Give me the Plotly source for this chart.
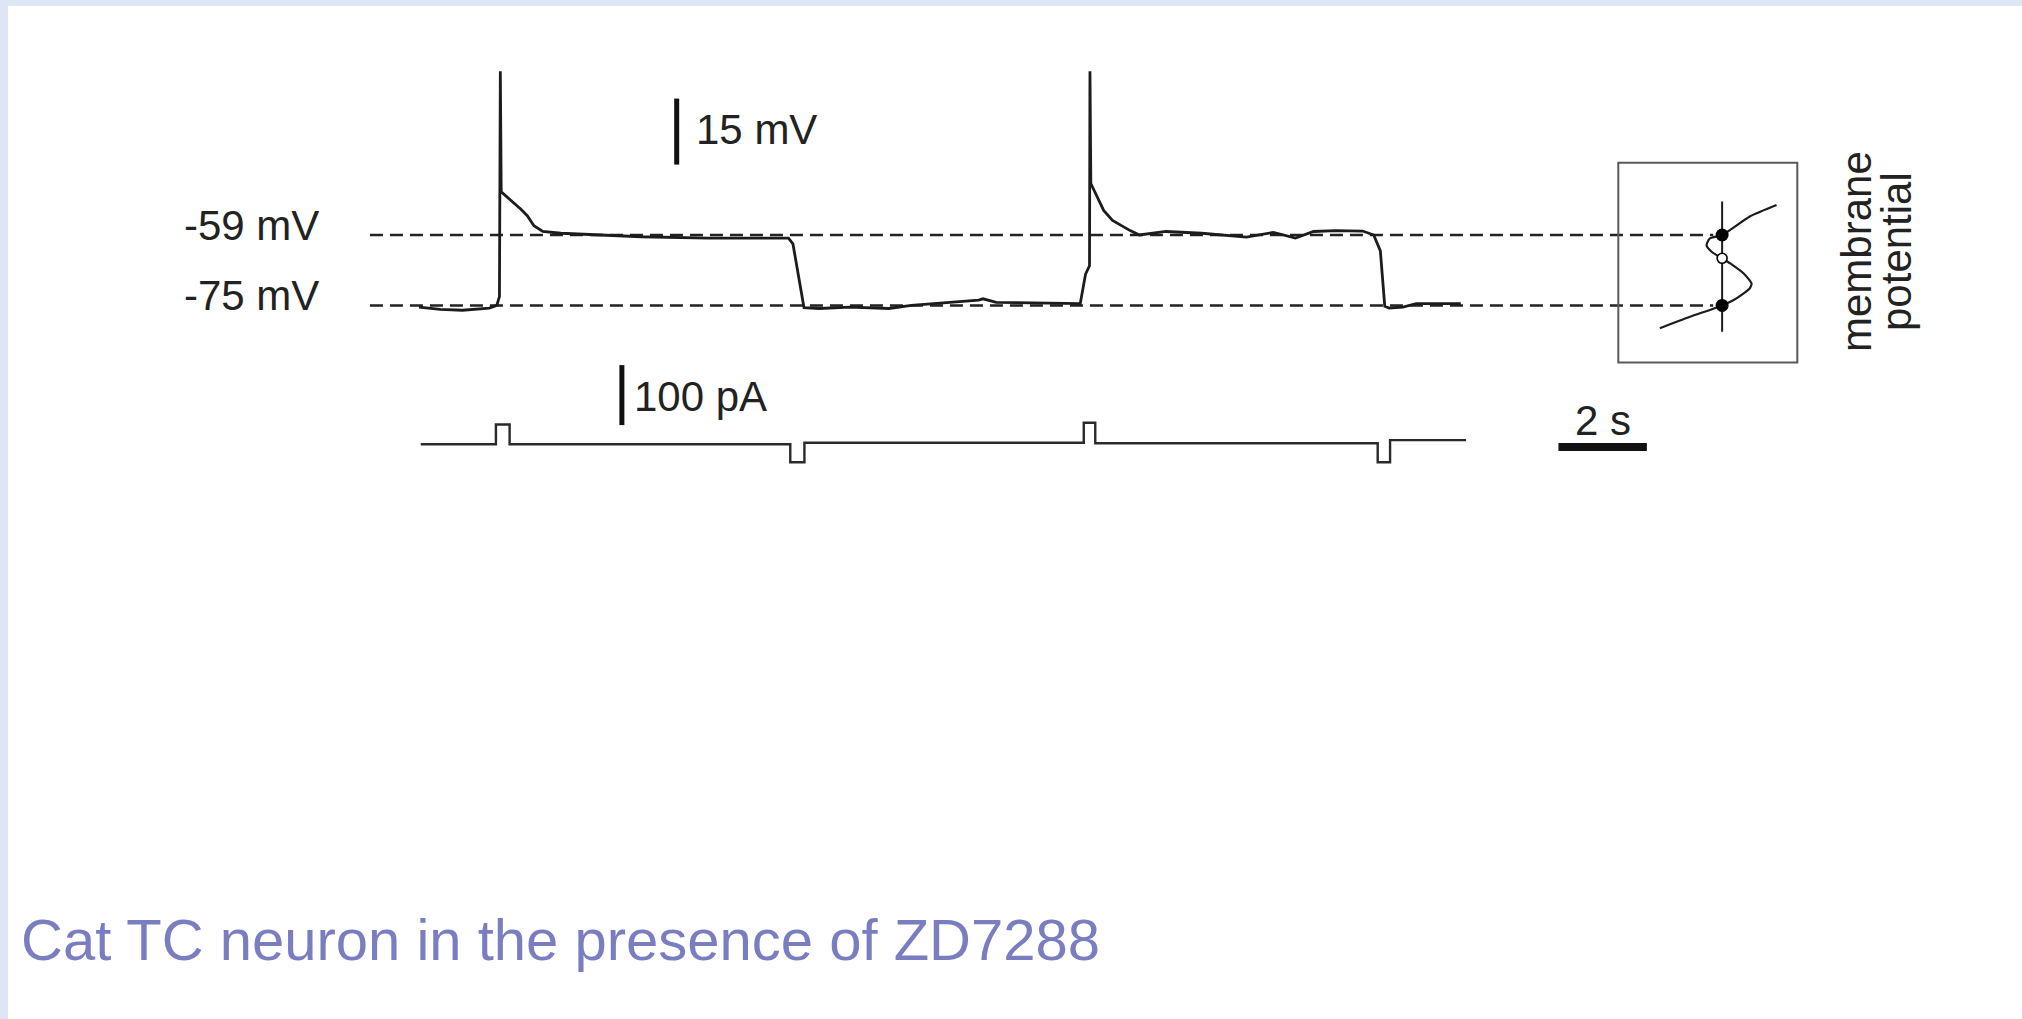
import plotly.graph_objects as go

# Membrane potential recording (time in s, potential in mV)
vm_time = [0.00, 0.48, 0.98, 1.59, 1.76, 1.82, 1.84, 1.86,
           2.30, 2.45, 2.60, 2.80, 3.21, 4.01, 5.02, 6.54,
           8.36, 8.46, 8.71, 9.06, 9.75,
           10.63, 11.14, 12.66, 12.76, 13.06, 14.68, 14.96,
           15.08, 15.17, 15.18, 15.20,
           15.49, 15.69, 16.09, 16.30, 16.90, 17.71, 18.72, 19.33, 19.83,
           20.24, 20.74, 21.35, 21.60, 21.75, 21.85, 21.95, 22.26, 22.56, 23.57]
vm_mv = [-75.4, -75.9, -76.1, -75.6, -75.0, -73.0, -21.8, -49.2,
         -53.1, -54.6, -56.9, -58.2, -58.6, -59.0, -59.4, -59.7,
         -59.7, -61.0, -75.5, -75.7, -75.4,
         -75.7, -75.0, -73.8, -73.5, -74.3, -74.6, -74.6,
         -67.9, -66.0, -21.8, -47.3,
         -53.4, -55.7, -58.0, -59.0, -58.2, -58.6, -59.5, -58.4, -59.7,
         -58.2, -58.0, -58.1, -59.0, -62.6, -75.2, -75.6, -75.4, -74.6, -74.6]

# Injected current steps (time in s, current in pA)
cur_time = [0.04, 1.74, 2.05, 8.40, 8.72, 15.04, 15.30, 21.69, 21.97, 23.69]
cur_pa = [0, 33, 0, -30, 2.7, 36, 1.7, -30, 7, 7]

# Reference potentials
ref_levels_mv = [-59, -75]
ref_labels = ["-59 mV", "-75 mV"]

# Scale bars
vm_bar_mv = 15
cur_bar_pa = 100
time_bar_s = 2

# Inset: steady-state I-V relation (current in arbitrary units, potential in mV)
iv_current = [-34.8, -18.0, 0.0, 8.0, 15.5, 16.4, 11.9, 4.3, 0.0, -5.9, -8.7, -6.9, 0.0, 15.5, 30.4]
iv_mv = [-80.2, -77.6, -75.0, -73.4, -71.1, -70.0, -67.7, -65.4, -64.3, -62.8, -61.3, -59.8, -59.0, -54.8, -52.2]
stable_mv = [-59, -75]
unstable_mv = [-64.3]
zero_line_mv = [-81.0, -51.4]

title_text = "Cat TC neuron in the presence of ZD7288"

W, H = 2022, 1019
INK = "#1c1c1c"
LABEL_FONT = dict(family="Liberation Sans Narrow, Arial Narrow, Liberation Sans, Arial", size=42, color="#222222")

fig = go.Figure()

fig.add_trace(go.Scatter(x=vm_time, y=vm_mv, mode="lines",
                         line=dict(color=INK, width=2.8), xaxis="x", yaxis="y",
                         hoverinfo="skip"))
fig.add_trace(go.Scatter(x=cur_time, y=cur_pa, mode="lines",
                         line=dict(color="#2a2a2a", width=2.4, shape="hv"),
                         xaxis="x", yaxis="y2", hoverinfo="skip"))

# Inset traces share the mV axis
fig.add_trace(go.Scatter(x=[0, 0], y=zero_line_mv, mode="lines",
                         line=dict(color=INK, width=2), xaxis="x3", yaxis="y",
                         hoverinfo="skip"))
fig.add_trace(go.Scatter(x=iv_current, y=iv_mv, mode="lines",
                         line=dict(color=INK, width=2.2, shape="spline", smoothing=0.6),
                         xaxis="x3", yaxis="y", hoverinfo="skip"))
fig.add_trace(go.Scatter(x=[0] * len(stable_mv), y=stable_mv, mode="markers",
                         marker=dict(size=13, color="black"),
                         xaxis="x3", yaxis="y", hoverinfo="skip"))
fig.add_trace(go.Scatter(x=[0] * len(unstable_mv), y=unstable_mv, mode="markers",
                         marker=dict(size=10, color="white", line=dict(color="black", width=1.6)),
                         xaxis="x3", yaxis="y", hoverinfo="skip"))

shapes = []
# slide frame tint
shapes.append(dict(type="rect", xref="paper", yref="paper", x0=0, x1=1, y0=1 - 6 / H, y1=1,
                   fillcolor="rgb(221,230,244)", line=dict(width=0), layer="below"))
shapes.append(dict(type="rect", xref="paper", yref="paper", x0=0, x1=8 / W, y0=0, y1=1,
                   fillcolor="rgb(221,230,244)", line=dict(width=0), layer="below"))

# dashed reference potentials
for lv in ref_levels_mv:
    shapes.append(dict(type="line", xref="x", yref="y", x0=-1.11, x1=29.28, y0=lv, y1=lv,
                       line=dict(color="#222222", width=2.5, dash="13px,7px"), layer="below"))

# scale bars
shapes.append(dict(type="line", xref="x", yref="y", x0=5.83, x1=5.83, y0=-43, y1=-43 + vm_bar_mv,
                   line=dict(color="#111111", width=5)))
shapes.append(dict(type="line", xref="x", yref="y2", x0=4.59, x1=4.59, y0=32, y1=32 + cur_bar_pa,
                   line=dict(color="#111111", width=5)))
shapes.append(dict(type="line", xref="x", yref="y2", x0=25.78, x1=25.78 + time_bar_s, y0=-4.5, y1=-4.5,
                   line=dict(color="#111111", width=8)))

# inset frame
shapes.append(dict(type="rect", xref="x3 domain", yref="y", x0=0, x1=1, y0=-88.0, y1=-42.6,
                   line=dict(color="#5a5a5a", width=2), fillcolor="rgba(0,0,0,0)"))

annotations = []
for lv, txt in zip(ref_levels_mv, ref_labels):
    annotations.append(dict(x=-2.22, y=lv, xref="x", yref="y", text=txt, showarrow=False,
                            xanchor="right", yanchor="middle", yshift=10, font=LABEL_FONT))
annotations.append(dict(x=6.22, y=-35.0, xref="x", yref="y", text=f"{vm_bar_mv} mV", showarrow=False,
                        xanchor="left", yanchor="middle", font=LABEL_FONT))
annotations.append(dict(x=4.82, y=79, xref="x", yref="y2", text=f"{cur_bar_pa} pA", showarrow=False,
                        xanchor="left", yanchor="middle", font=LABEL_FONT))
annotations.append(dict(x=25.78 + time_bar_s / 2, y=40, xref="x", yref="y2", text=f"{time_bar_s} s",
                        showarrow=False, xanchor="center", yanchor="middle", font=LABEL_FONT))
annotations.append(dict(x=1857 / W, y=1 - 252 / H, xref="paper", yref="paper", text="membrane",
                        textangle=-90, showarrow=False, xanchor="center", yanchor="middle", font=LABEL_FONT))
annotations.append(dict(x=1897 / W, y=1 - 252 / H, xref="paper", yref="paper", text="potential",
                        textangle=-90, showarrow=False, xanchor="center", yanchor="middle", font=LABEL_FONT))
annotations.append(dict(x=19 / W, y=1 - 939 / H, xref="paper", yref="paper", text=title_text,
                        showarrow=False, xanchor="left", yanchor="middle",
                        font=dict(family="Liberation Sans, Arial", size=58, color="#7a7ec0")))

hidden = dict(visible=False, showgrid=False, zeroline=False, fixedrange=True)

# pixel mapping: 44.2 px per second with the trace starting at x=419 px;
# 4.4 px per mV with -59 mV at y=235 px; 0.6 px per pA with 0 pA at y=444.3 px
x_range = [(0 - 419) / 44.2, (W - 419) / 44.2]
y_range = [-59 - (H - 235) / 4.4, -59 + 235 / 4.4]
y2_range = [(444.3 - H) / 0.6, 444.3 / 0.6]

fig.update_layout(
    width=W, height=H,
    margin=dict(l=0, r=0, t=0, b=0),
    paper_bgcolor="white", plot_bgcolor="rgba(0,0,0,0)",
    showlegend=False,
    xaxis=dict(domain=[0, 1], range=x_range, anchor="y", **hidden),
    yaxis=dict(domain=[0, 1], range=y_range, anchor="x", **hidden),
    yaxis2=dict(domain=[0, 1], range=y2_range, overlaying="y", anchor="x", **hidden),
    xaxis3=dict(domain=[1618.3 / W, 1797.3 / W], range=[-58, 42], anchor="y", **hidden),
    shapes=shapes,
    annotations=annotations,
)

fig.write_html("out.html")
